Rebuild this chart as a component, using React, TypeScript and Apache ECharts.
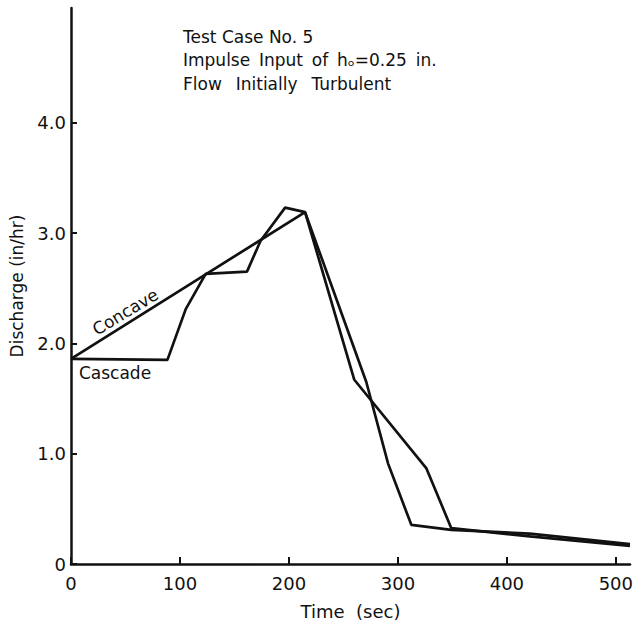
import React, { useEffect, useRef } from "react";
import * as echarts from "echarts";

// Time (sec) and discharge (in/hr)
const concaveTime = [0, 214.8, 260, 326, 349, 421, 513];
const concaveDischarge = [1.86, 3.19, 1.67, 0.87, 0.325, 0.25, 0.165];

const cascadeTime = [0, 88.5, 105.3, 123.6, 161.5, 174, 196.5, 214.8, 271, 291, 312.3, 349, 421, 513];
const cascadeDischarge = [1.86, 1.85, 2.31, 2.63, 2.65, 2.93, 3.23, 3.19, 1.65, 0.91, 0.355, 0.31, 0.275, 0.18];

const xTicks = [0, 100, 200, 300, 400, 500];
const yTicks = [0, 1, 2, 3, 4];

const titleLines = [
  "Test Case No. 5",
  "Impulse\u2009 Input\u2009 of\u2009 h\u2092=0.25\u2009 in.",
  "Flow\u2002 Initially\u2002 Turbulent",
];

const FONT = "DejaVu Sans";
const INK = "#111111";

export default function App() {
  const ref = useRef<HTMLDivElement>(null);

  useEffect(() => {
    if (!ref.current) return;
    const chart = echarts.init(ref.current, null, { renderer: "svg" });
    const pairs = (xs: number[], ys: number[]) => xs.map((x, i) => [x, ys[i]]);

    chart.setOption({
      animation: false,
      backgroundColor: "#ffffff",
      title: {
        text: titleLines.join("\n"),
        left: 183,
        top: 25,
        padding: 0,
        textStyle: {
          fontFamily: FONT,
          fontSize: 17,
          fontWeight: "normal",
          color: INK,
          lineHeight: 23.5,
        },
      },
      grid: { left: 70, right: 13, top: 8, bottom: 59, containLabel: false },
      xAxis: {
        type: "value",
        min: 0,
        max: 513,
        name: "Time  (sec)",
        nameLocation: "middle",
        nameGap: 38,
        nameTextStyle: { fontFamily: FONT, fontSize: 18, color: INK },
        axisLine: { show: true, onZero: false, lineStyle: { color: INK, width: 2.5 } },
        axisTick: { show: true, inside: true, length: 7, customValues: xTicks, lineStyle: { color: INK, width: 2 } },
        axisLabel: {
          customValues: xTicks,
          margin: 10,
          fontFamily: FONT,
          fontSize: 18,
          color: INK,
          formatter: (v: number) => String(v),
        },
        splitLine: { show: false },
      },
      yAxis: {
        type: "value",
        min: 0,
        max: 5.04,
        name: "Discharge (in/hr)",
        nameLocation: "middle",
        nameGap: 46,
        nameRotate: 90,
        nameTextStyle: { fontFamily: FONT, fontSize: 17, color: INK },
        axisLine: { show: true, onZero: false, lineStyle: { color: INK, width: 2.5 } },
        axisTick: { show: true, inside: true, length: 6, customValues: yTicks, lineStyle: { color: INK, width: 2 } },
        axisLabel: {
          customValues: yTicks,
          margin: 5,
          fontFamily: FONT,
          fontSize: 18,
          color: INK,
          formatter: (v: number) => (v === 0 ? "0" : v.toFixed(1)),
        },
        splitLine: { show: false },
      },
      series: [
        {
          name: "Concave",
          type: "line",
          data: pairs(concaveTime, concaveDischarge),
          showSymbol: false,
          symbol: "none",
          lineStyle: { color: INK, width: 2.7 },
          z: 3,
        },
        {
          name: "Cascade",
          type: "line",
          data: pairs(cascadeTime, cascadeDischarge),
          showSymbol: false,
          symbol: "none",
          lineStyle: { color: INK, width: 2.7 },
          z: 3,
        },
      ],
    });

    const pConcave = chart.convertToPixel({ xAxisIndex: 0, yAxisIndex: 0 }, [55, 2.2]) as number[];
    const pCascade = chart.convertToPixel({ xAxisIndex: 0, yAxisIndex: 0 }, [7.3, 1.73]) as number[];
    const ang = 31 * Math.PI / 180;
    chart.setOption({
      graphic: [
        {
          type: "text",
          x: pConcave[0] - 11 * Math.sin(ang),
          y: pConcave[1] - 11 * Math.cos(ang),
          rotation: ang,
          style: {
            text: "Concave",
            fontFamily: FONT,
            fontSize: 17,
            fill: INK,
            align: "center",
            verticalAlign: "middle",
          },
        },
        {
          type: "text",
          x: pCascade[0],
          y: pCascade[1],
          style: {
            text: "Cascade",
            fontFamily: FONT,
            fontSize: 17,
            fill: INK,
            align: "left",
            verticalAlign: "middle",
          },
        },
      ],
    });

    return () => chart.dispose();
  }, []);

  return (
    <div
      ref={ref}
      style={{ position: "fixed", left: 0, top: 0, width: 643, height: 625, background: "#fff" }}
    />
  );
}
